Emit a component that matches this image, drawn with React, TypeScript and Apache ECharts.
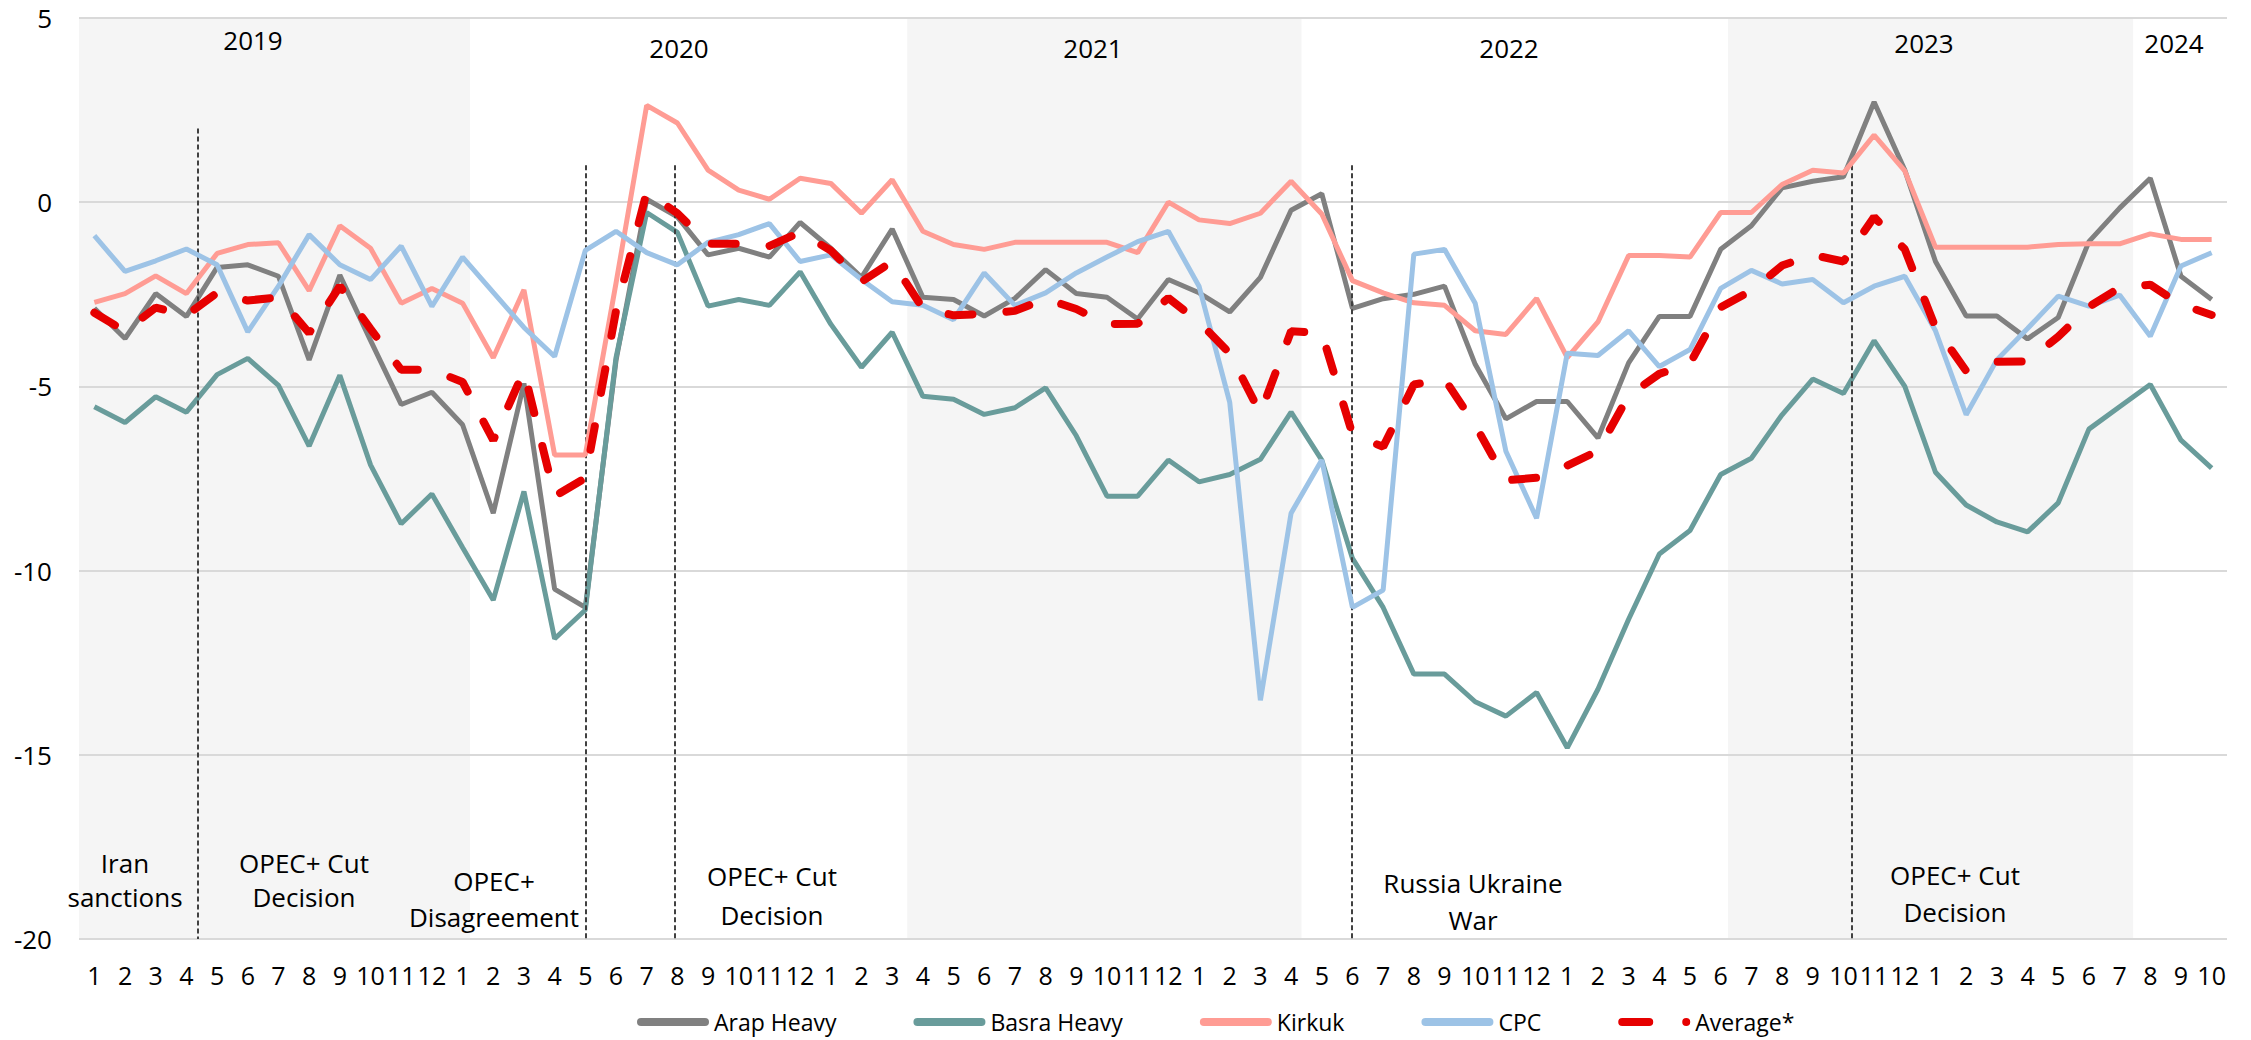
import React, { useEffect, useRef } from 'react';
import * as echarts from 'echarts';

const monthLabels = [
  '1', '2', '3', '4', '5', '6', '7', '8', '9', '10', '11', '12',
  '1', '2', '3', '4', '5', '6', '7', '8', '9', '10', '11', '12',
  '1', '2', '3', '4', '5', '6', '7', '8', '9', '10', '11', '12',
  '1', '2', '3', '4', '5', '6', '7', '8', '9', '10', '11', '12',
  '1', '2', '3', '4', '5', '6', '7', '8', '9', '10', '11', '12',
  '1', '2', '3', '4', '5', '6', '7', '8', '9', '10',
];

const arapHeavy = [
  -2.88, -3.7, -2.48, -3.1, -1.77, -1.7, -2.01, -4.28, -1.98, -3.75, -5.49, -5.16,
  -6.04, -8.44, -4.92, -10.5, -11.0, -4.3, 0.08, -0.4, -1.43, -1.25, -1.49, -0.55,
  -1.25, -2.04, -0.73, -2.58, -2.64, -3.09, -2.61, -1.83, -2.48, -2.58, -3.17, -2.1,
  -2.46, -2.98, -2.04, -0.22, 0.23, -2.88, -2.62, -2.5, -2.28, -4.4, -5.88, -5.41,
  -5.41, -6.4, -4.36, -3.1, -3.1, -1.28, -0.64, 0.39, 0.57, 0.69, 2.72, 0.87,
  -1.61, -3.09, -3.09, -3.71, -3.13, -1.07, -0.16, 0.65, -2.01, -2.64,
];

const basraHeavy = [
  -5.55, -5.98, -5.28, -5.7, -4.68, -4.24, -4.97, -6.62, -4.7, -7.13, -8.73, -7.92,
  -9.37, -10.8, -7.85, -11.85, -11.07, -4.22, -0.28, -0.82, -2.82, -2.64, -2.8, -1.89,
  -3.31, -4.48, -3.53, -5.27, -5.35, -5.76, -5.58, -5.04, -6.34, -7.98, -7.98, -7.0,
  -7.59, -7.39, -6.98, -5.7, -7.0, -9.67, -11.0, -12.81, -12.81, -13.56, -13.95, -13.31,
  -14.81, -13.22, -11.32, -9.55, -8.91, -7.39, -6.95, -5.77, -4.8, -5.19, -3.76, -5.0,
  -7.33, -8.22, -8.68, -8.95, -8.16, -6.16, -5.55, -4.95, -6.46, -7.22,
];

const kirkuk = [
  -2.72, -2.48, -2.0, -2.48, -1.39, -1.15, -1.1, -2.4, -0.64, -1.25, -2.74, -2.34,
  -2.74, -4.22, -2.38, -6.86, -6.86, -2.2, 2.63, 2.15, 0.87, 0.33, 0.08, 0.65,
  0.51, -0.3, 0.61, -0.79, -1.15, -1.28, -1.09, -1.09, -1.09, -1.09, -1.37, 0.0,
  -0.48, -0.58, -0.3, 0.57, -0.32, -2.13, -2.46, -2.73, -2.8, -3.49, -3.59, -2.61,
  -4.22, -3.25, -1.45, -1.45, -1.49, -0.28, -0.28, 0.48, 0.87, 0.79, 1.82, 0.85,
  -1.22, -1.22, -1.22, -1.22, -1.15, -1.13, -1.13, -0.86, -1.01, -1.01,
];

const cpc = [
  -0.91, -1.88, -1.59, -1.27, -1.7, -3.52, -2.28, -0.88, -1.7, -2.1, -1.19, -2.83,
  -1.49, -2.45, -3.4, -4.19, -1.31, -0.79, -1.37, -1.7, -1.09, -0.88, -0.58, -1.61,
  -1.43, -2.1, -2.7, -2.8, -3.19, -1.92, -2.8, -2.46, -1.92, -1.49, -1.07, -0.79,
  -2.28, -5.43, -13.52, -8.44, -7.0, -11.0, -10.53, -1.41, -1.28, -2.74, -6.76, -8.58,
  -4.1, -4.16, -3.49, -4.46, -4.0, -2.34, -1.85, -2.22, -2.1, -2.73, -2.28, -2.01,
  -3.49, -5.77, -4.28, -3.43, -2.55, -2.82, -2.52, -3.64, -1.73, -1.37,
];

const average = [
  -3.0, -3.5, -2.86, -3.07, -2.46, -2.67, -2.58, -3.55, -2.28, -3.44, -4.55, -4.55,
  -4.88, -6.46, -4.58, -7.98, -7.49, -2.95, 0.27, -0.3, -1.13, -1.13, -1.19, -0.82,
  -1.31, -2.16, -1.61, -2.88, -3.07, -3.03, -2.95, -2.62, -2.9, -3.31, -3.3, -2.6,
  -3.25, -4.1, -5.73, -3.5, -3.55, -6.3, -6.64, -4.95, -4.8, -6.05, -7.55, -7.48,
  -7.15, -6.75, -5.25, -4.66, -4.38, -2.85, -2.4, -1.72, -1.43, -1.61, -0.4, -1.28,
  -3.4, -4.58, -4.33, -4.32, -3.65, -2.84, -2.32, -2.24, -2.78, -3.06,
];

const seriesNames = ['Arap Heavy', 'Basra Heavy', 'Kirkuk', 'CPC', 'Average*'];
const yearLabels = ['2019', '2020', '2021', '2022', '2023', '2024'];
const eventLabels = [
  'Iran\nsanctions',
  'OPEC+ Cut\nDecision',
  'OPEC+\nDisagreement',
  'OPEC+ Cut\nDecision',
  'Russia Ukraine\nWar',
  'OPEC+ Cut\nDecision',
];

// ---- layout / style (not data) ----
const FONT = '"Open Sans", "Noto Sans", sans-serif';
const COLORS = ['#808080', '#699C9B', '#FF9C94', '#9DC3E6', '#E60000'];
const yearPos = [[253, 40], [679, 48], [1093, 48], [1509, 48], [1924, 43], [2174, 43]];
const eventPos = [[125, 880, 34], [304, 880, 34], [494, 899, 36], [772, 895, 39], [1473, 901, 37], [1955, 893, 37]];
const bandRanges = [[-0.5, 12.24], [26.49, 39.34], [53.24, 66.44]];
const eventLines = [[3.36, 2], [16.03, 1], [18.92, 1], [40.97, 1], [57.26, 1]];

const LINE_ICON = 'path://M4,0 L68,0 A4,4 0 0 1 68,8 L4,8 A4,4 0 0 1 4,0 Z';
const AVG_ICON = 'path://M4,0 L31,0 A4,4 0 0 1 31,8 L4,8 A4,4 0 0 1 4,0 Z M64,4 A4,4 0 1 0 72,4 A4,4 0 1 0 64,4 Z';

export default function App() {
  const ref = useRef<HTMLDivElement>(null);

  useEffect(() => {
    if (!ref.current) return;
    const chart = echarts.init(ref.current, undefined, { renderer: 'svg' });
    const values = [arapHeavy, basraHeavy, kirkuk, cpc, average];

    const dataSeries = values.map((vals, i) => {
      const isAvg = i === 4;
      return {
        name: seriesNames[i],
        type: 'line',
        data: vals,
        xAxisIndex: 0,
        yAxisIndex: 0,
        symbol: 'none',
        smooth: false,
        z: 3 + i,
        color: COLORS[i],
        itemStyle: { color: COLORS[i] },
        lineStyle: isAvg
          ? { color: COLORS[i], width: 8, type: [24, 34], cap: 'round' }
          : { color: COLORS[i], width: 5 },
      };
    });

    const graphics: any[] = [];
    yearLabels.forEach((t, i) => {
      graphics.push({
        type: 'text',
        x: yearPos[i][0],
        y: yearPos[i][1],
        z: 100,
        style: {
          text: t,
          fontSize: 26,
          fontFamily: FONT,
          fill: '#000',
          align: 'center',
          verticalAlign: 'middle',
          textAlign: 'center',
          textVerticalAlign: 'middle',
        },
      });
    });
    eventLabels.forEach((t, i) => {
      graphics.push({
        type: 'text',
        x: eventPos[i][0],
        y: eventPos[i][1],
        z: 100,
        style: {
          text: t,
          fontSize: 26,
          lineHeight: eventPos[i][2],
          fontFamily: FONT,
          fill: '#000',
          align: 'center',
          verticalAlign: 'middle',
          textAlign: 'center',
          textVerticalAlign: 'middle',
        },
      });
    });

    const option: any = {
      animation: false,
      backgroundColor: '#ffffff',
      textStyle: { fontFamily: FONT },
      grid: { left: 79, right: 24, top: 18, bottom: 101, containLabel: false },
      xAxis: [
        {
          type: 'category',
          data: monthLabels,
          boundaryGap: true,
          axisLine: { show: false },
          axisTick: { show: false },
          splitLine: { show: false },
          axisLabel: { interval: 0, fontSize: 25, color: '#000', margin: 23, fontFamily: FONT },
        },
        {
          type: 'value',
          min: -0.5,
          max: 69.5,
          show: false,
          splitLine: { show: false },
        },
      ],
      yAxis: {
        type: 'value',
        min: -20,
        max: 5,
        interval: 5,
        z: 1.5,
        axisLine: { show: false },
        axisTick: { show: false },
        axisLabel: { fontSize: 26, color: '#000', margin: 27, fontFamily: FONT },
        splitLine: { lineStyle: { color: '#D9D9D9', width: 2 } },
      },
      legend: {
        left: 637,
        top: 1009,
        padding: 0,
        itemWidth: 72,
        itemHeight: 8,
        itemGap: 77,
        itemStyle: { borderWidth: 0 },
        textStyle: { fontSize: 23, lineHeight: 26, color: '#000', fontFamily: FONT },
        data: seriesNames.map((n, i) => ({ name: n, icon: i === 4 ? AVG_ICON : LINE_ICON })),
      },
      series: [
        {
          type: 'line',
          xAxisIndex: 1,
          yAxisIndex: 0,
          data: [],
          silent: true,
          z: 1,
          markArea: {
            silent: true,
            itemStyle: { color: '#F5F5F5' },
            data: bandRanges.map((b) => [
              { xAxis: b[0], yAxis: 5 },
              { xAxis: b[1], yAxis: -20 },
            ]),
          },
        },
        {
          type: 'line',
          xAxisIndex: 1,
          yAxisIndex: 0,
          data: [],
          silent: true,
          z: 2,
          markLine: {
            silent: true,
            symbol: ['none', 'none'],
            label: { show: false },
            lineStyle: { color: '#404040', width: 2, type: [5, 3] },
            data: eventLines.map((l) => [
              { coord: [l[0], l[1]] },
              { coord: [l[0], -20] },
            ]),
          },
        },
        ...dataSeries,
      ],
      graphic: graphics,
    };

    chart.setOption(option);
    return () => {
      chart.dispose();
    };
  }, []);

  return (
    <div
      ref={ref}
      style={{ position: 'absolute', left: 0, top: 0, width: 2251, height: 1040 }}
    />
  );
}
